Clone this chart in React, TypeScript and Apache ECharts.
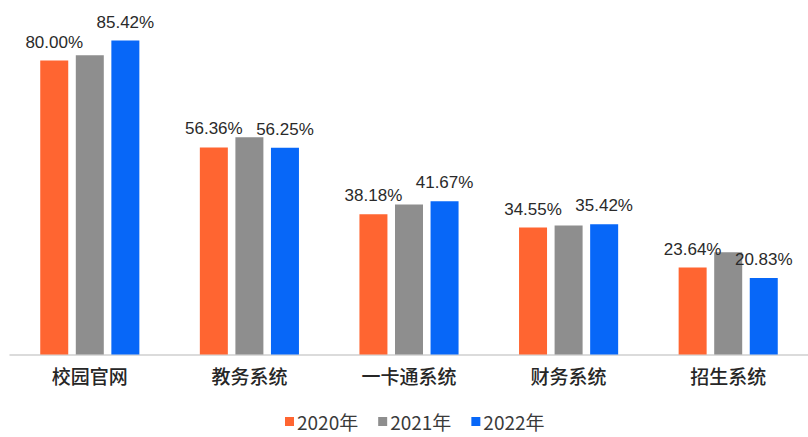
import React, { useEffect, useRef } from "react";
import * as echarts from "echarts";

const categories = ["校园官网", "教务系统", "一卡通系统", "财务系统", "招生系统"];
const seriesNames = ["2020年", "2021年", "2022年"];
const values2020 = [80.0, 56.36, 38.18, 34.55, 23.64];
const values2021 = [81.4, 59.1, 40.8, 35.1, 27.8];
const values2022 = [85.42, 56.25, 41.67, 35.42, 20.83];
const showLabel = [true, false, true];
const colors = ["#FF6531", "#8E8E8E", "#0767F8"];

export default function App() {
  const ref = useRef<HTMLDivElement>(null);
  useEffect(() => {
    if (!ref.current) return;
    const chart = echarts.init(ref.current, undefined, { renderer: "svg" });
    const data = [values2020, values2021, values2022];
    chart.setOption({
      animation: false,
      backgroundColor: "#ffffff",
      grid: { left: 10, width: 804, top: 23.75, bottom: 82.5, containLabel: false },
      legend: {
        data: seriesNames,
        left: 285,
        top: 412,
        padding: 0,
        itemWidth: 9,
        itemHeight: 9,
        itemGap: 20,
        icon: "rect",
        textStyle: {
          fontSize: 19,
          color: "#3a3a3a",
          fontFamily: "Noto Sans CJK SC",
          padding: [0, 0, 0, -2],
        },
      },
      xAxis: {
        type: "category",
        data: categories,
        axisLine: { show: true, lineStyle: { color: "#cfcfcf", width: 1.5 } },
        axisTick: { show: false },
        axisLabel: {
          fontSize: 19,
          color: "#262626",
          margin: 11,
          fontFamily: "Noto Sans CJK SC",
          fontWeight: 500,
        },
      },
      yAxis: {
        type: "value",
        min: 0,
        max: 90,
        show: false,
        splitLine: { show: false },
      },
      series: seriesNames.map((name, i) => ({
        name,
        type: "bar",
        data: data[i],
        barWidth: 28,
        barGap: "27%",
        itemStyle: { color: colors[i] },
        label: {
          show: showLabel[i],
          position: "top",
          distance: 10,
          fontSize: 17,
          color: "#2a2a2a",
          fontFamily: "Liberation Sans",
          formatter: (p: any) => p.value.toFixed(2) + "%",
        },
      })),
    });
    return () => chart.dispose();
  }, []);
  return (
    <div
      ref={ref}
      style={{ position: "fixed", left: 0, top: 0, width: 808, height: 437 }}
    />
  );
}
